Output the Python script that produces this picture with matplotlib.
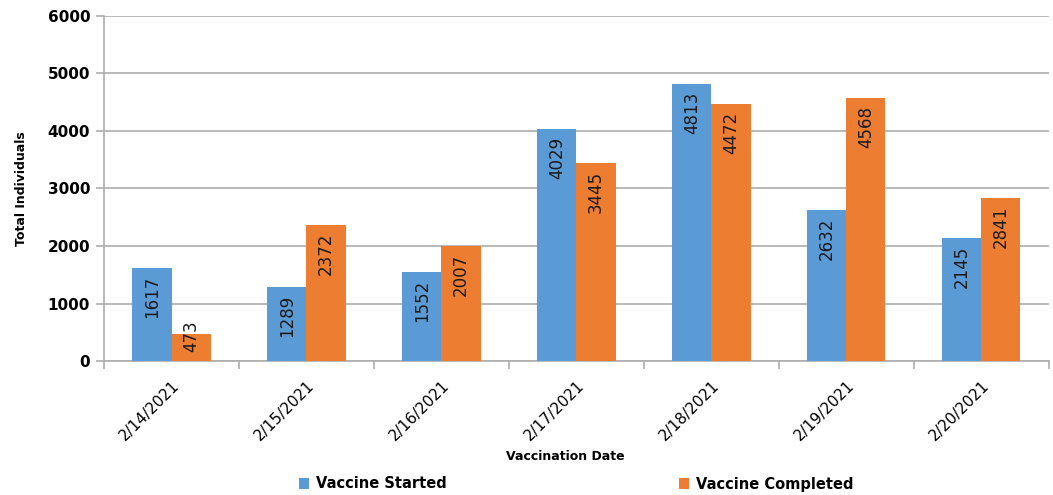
import numpy as np
import matplotlib
matplotlib.use("Agg")
import matplotlib.pyplot as plt

plt.rcParams['font.family'] = ['DejaVu Sans']

# ============================================================
# data
# ============================================================
dates = ['2/14/2021', '2/15/2021', '2/16/2021', '2/17/2021',
         '2/18/2021', '2/19/2021', '2/20/2021']
started = [1617, 1289, 1552, 4029, 4813, 2632, 2145]
completed = [473, 2372, 2007, 3445, 4472, 4568, 2841]

BLUE = '#5B9BD5'
ORANGE = '#ED7D31'
GRID = '#adadad'

fig = plt.figure(figsize=(10.53, 4.95), dpi=100)
ax = fig.add_axes([0.0988, 0.2707, 0.8972, 0.697])

x = np.arange(len(dates))
w = 0.29
b1 = ax.bar(x - w / 2, started, w, color=BLUE, label='Vaccine Started', zorder=3)
b2 = ax.bar(x + w / 2, completed, w, color=ORANGE, label='Vaccine Completed', zorder=3)

ax.set_xlim(-0.5, len(dates) - 0.5)
ax.set_ylim(0, 6000)

# value labels inside bars, rotated (short bars: label sits a bit above base)
px = 6000 / 345.0          # data units per pixel
for bars, vals in ((b1, started), (b2, completed)):
    for rect, v in zip(bars, vals):
        top = max(v - 8 * px, 41 * px)
        ax.text(rect.get_x() + rect.get_width() / 2, top, str(v),
                rotation=90, ha='center', va='top',
                fontsize=12, color='#1a1a1a', zorder=4)

ax.set_yticks(np.arange(0, 6001, 1000))
ax.yaxis.grid(True, color=GRID, linewidth=1.2, zorder=0)

ax.set_xticks(x)
ax.set_xticklabels(dates, rotation=45, ha='right', rotation_mode='anchor',
                   fontsize=11)
ax.set_xticks(np.arange(-0.5, len(dates), 1.0), minor=True)
ax.tick_params(axis='x', which='major', length=0, pad=12)
ax.tick_params(axis='x', which='minor', length=6, color=GRID, width=1.2)
ax.tick_params(axis='y', length=6, color=GRID, width=1.2, pad=4)
for lab in ax.get_yticklabels():
    lab.set_fontweight('bold')
    lab.set_fontsize(11)

for s in ('top', 'right'):
    ax.spines[s].set_visible(False)
for s in ('left', 'bottom'):
    ax.spines[s].set_color(GRID)
    ax.spines[s].set_linewidth(1.2)

ax.set_ylabel('Total Individuals', fontsize=9, fontweight='bold', labelpad=14)
ax.set_xlabel('Vaccination Date', fontsize=9, fontweight='bold')
ax.xaxis.set_label_coords(0.488, -0.258)

# two legend entries spread apart like the original
for handle, xpos in ((b1, 299), (b2, 679)):
    fig.legend(handles=[handle], loc='center left',
               bbox_to_anchor=(xpos / 1053, 11 / 495),
               frameon=False, prop={'weight': 'bold', 'size': 10.5},
               handlelength=0.7, handleheight=0.7, handletextpad=0.45,
               borderpad=0, borderaxespad=0)

fig.savefig('out.png', dpi=100)
